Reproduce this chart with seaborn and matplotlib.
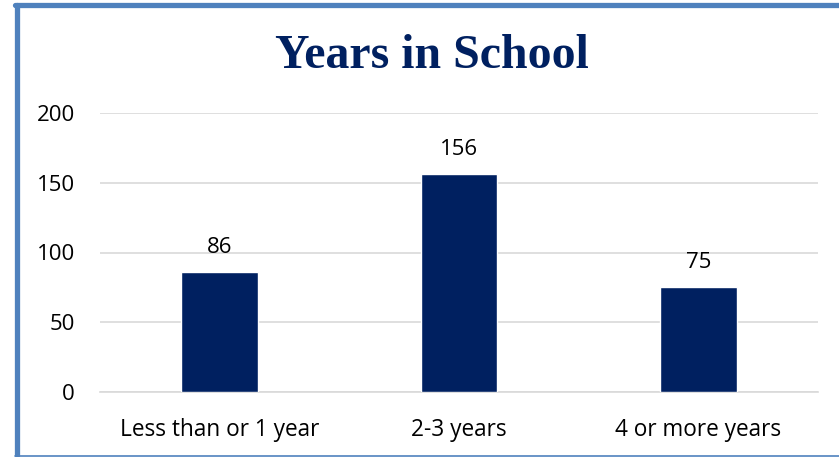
import matplotlib
matplotlib.use("Agg")
import matplotlib.pyplot as plt
import seaborn as sns
import pandas as pd
from matplotlib.lines import Line2D

categories = ["Less than or 1 year", "2-3 years", "4 or more years"]
values = [86, 156, 75]
yticks = [0, 50, 100, 150, 200]

df = pd.DataFrame({"cat": categories, "val": values})

sns.set_theme(style="white")
plt.rcParams["font.family"] = ["Open Sans", "DejaVu Sans"]

fig = plt.figure(figsize=(8.39, 4.57), dpi=100)
ax = fig.add_axes([100/839, 1-392/457, 718/839, (392-113)/457])

sns.barplot(data=df, x="cat", y="val", color="#002060", width=0.32,
            saturation=1, ax=ax, zorder=3)

ax.set_ylim(0, 200)
ax.set_yticks(yticks)
ax.set_yticklabels([str(t) for t in yticks], fontsize=16, color="#000000")
ax.tick_params(axis="x", labelsize=16.3, colors="#000000", length=0, pad=19)
ax.tick_params(axis="y", length=0, pad=18)
ax.set_xlabel("")
ax.set_ylabel("")
ax.grid(axis="y", color="#d9d9d9", linewidth=1.2, zorder=0)
ax.grid(axis="x", visible=False)
for s in ["top", "right", "left"]:
    ax.spines[s].set_visible(False)
ax.spines["bottom"].set_color("#d9d9d9")
ax.spines["bottom"].set_linewidth(1.2)

for p, v in zip(ax.patches, values):
    ax.text(p.get_x() + p.get_width()/2, v + 10, str(v), ha="center",
            va="bottom", fontsize=16, color="#000000")

fig.text(432/839, 1-56/457, "Years in School", ha="center", va="center",
         fontsize=34.5, fontweight="bold", color="#002060",
         family=["Liberation Serif", "DejaVu Serif"])

# border: thick top and left, thin bottom
bc = "#4f81bd"
fig.lines.append(Line2D([16.5/839, 16.5/839], [1-455/457, 1-5/457],
                        transform=fig.transFigure, color=bc, linewidth=3.8))
fig.lines.append(Line2D([15/839, 1.0], [1-5/457, 1-5/457],
                        transform=fig.transFigure, color=bc, linewidth=3.8))
fig.lines.append(Line2D([15/839, 1.0], [1-455.5/457, 1-455.5/457],
                        transform=fig.transFigure, color=bc, linewidth=1.2))

fig.savefig("out.png", dpi=100)
